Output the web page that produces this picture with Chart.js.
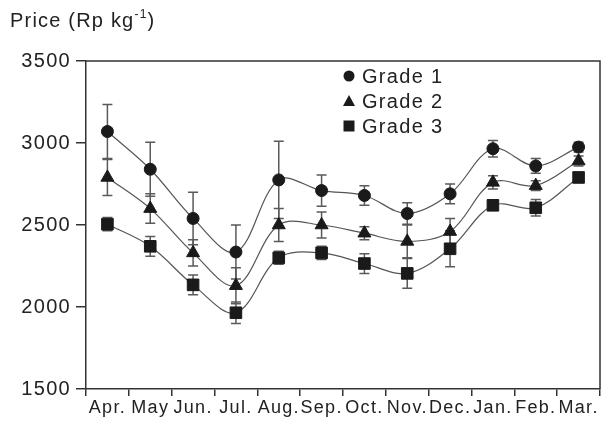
<!DOCTYPE html>
<html>
<head>
<meta charset="utf-8">
<script src="https://cdn.jsdelivr.net/npm/chart.js@4/dist/chart.umd.min.js"></script>
<style>
  html, body { margin: 0; padding: 0; background: #fff; }
  #wrap { position: relative; width: 616px; height: 421px; }
  #title {
    position: absolute; left: 10px; top: 10px;
    font: 20px "Liberation Sans", Arial, sans-serif; line-height: 20px;
    letter-spacing: 1.2px; color: #222; white-space: nowrap;
  }
  #title sup { font-size: 12px; position: relative; top: -1px; line-height: 0; }
</style>
</head>
<body>
<div id="wrap">
  <canvas id="chart" width="616" height="421"></canvas>
  <div id="title">Price (Rp kg<sup>-1</sup>)</div>
</div>
<script>
// Monthly prices by grade (Rp per kg) with their error margins
const months = ['Apr.', 'May', 'Jun.', 'Jul.', 'Aug.', 'Sep.', 'Oct.', 'Nov.', 'Dec.', 'Jan.', 'Feb.', 'Mar.'];
const grade1 = [3070, 2840, 2540, 2335, 2775, 2710, 2680, 2570, 2690, 2965, 2860, 2975];
const grade2 = [2790, 2600, 2330, 2130, 2500, 2500, 2450, 2400, 2460, 2760, 2740, 2890];
const grade3 = [2505, 2370, 2135, 1965, 2300, 2330, 2265, 2205, 2355, 2620, 2605, 2790];
const err1 = [165, 165, 160, 165, 235, 95, 60, 65, 60, 50, 45, 30];
const err2 = [110, 90, 80, 110, 100, 80, 40, 100, 80, 40, 30, 30];
const err3 = [40, 60, 60, 65, 40, 40, 60, 90, 110, 30, 50, 30];
const seriesNames = ['Grade 1', 'Grade 2', 'Grade 3'];
const yTicks = [1500, 2000, 2500, 3000, 3500];

const FONT = '"Liberation Sans", Arial, sans-serif';
const INK = '#222';
const LINE = '#555';

function series(label, values, errors, style, radius) {
  return {
    label, data: values, errors,
    borderColor: LINE, borderWidth: 1.2, tension: 0.35,
    pointStyle: style, pointRadius: radius, pointHoverRadius: radius,
    pointBackgroundColor: '#1a1a1a', pointBorderColor: '#1a1a1a', pointBorderWidth: 1
  };
}

// Text spacing for every draw pass
const spacing = {
  id: 'spacing',
  beforeDraw(chart) { chart.ctx.letterSpacing = '1.3px'; }
};

// Vertical error bars with caps, placed through the chart scales
const errorBars = {
  id: 'errorBars',
  beforeDatasetsDraw(chart) {
    const { ctx, scales: { x, y } } = chart;
    ctx.save();
    ctx.strokeStyle = '#5a5a5a';
    ctx.lineWidth = 1.5;
    chart.data.datasets.forEach(ds => {
      ds.data.forEach((v, i) => {
        const e = ds.errors[i];
        const px = x.getPixelForValue(i);
        const top = y.getPixelForValue(v + e);
        const bot = y.getPixelForValue(v - e);
        ctx.beginPath();
        ctx.moveTo(px, top); ctx.lineTo(px, bot);
        ctx.moveTo(px - 5, top); ctx.lineTo(px + 5, top);
        ctx.moveTo(px - 5, bot); ctx.lineTo(px + 5, bot);
        ctx.stroke();
      });
    });
    ctx.restore();
  }
};

// Top and right sides of the plot frame
const frame = {
  id: 'frame',
  afterDraw(chart) {
    const { ctx, chartArea: a } = chart;
    ctx.save();
    ctx.strokeStyle = '#333';
    ctx.lineWidth = 1.5;
    ctx.beginPath();
    ctx.moveTo(a.left, a.top); ctx.lineTo(a.right, a.top); ctx.lineTo(a.right, a.bottom);
    ctx.stroke();
    ctx.restore();
  }
};

// Legend with marker symbols in the upper part of the plot
const markerLegend = {
  id: 'markerLegend',
  afterDraw(chart) {
    const { ctx } = chart;
    const x0 = 349, y0 = 76, step = 25;
    ctx.save();
    ctx.font = '20px ' + FONT;
    ctx.textBaseline = 'middle';
    chart.data.datasets.forEach((ds, k) => {
      const cy = y0 + k * step;
      ctx.fillStyle = '#1a1a1a';
      ctx.beginPath();
      if (ds.pointStyle === 'circle') {
        ctx.arc(x0, cy, 5.5, 0, Math.PI * 2);
      } else if (ds.pointStyle === 'triangle') {
        ctx.moveTo(x0, cy - 6); ctx.lineTo(x0 + 6, cy + 5); ctx.lineTo(x0 - 6, cy + 5); ctx.closePath();
      } else {
        ctx.rect(x0 - 5.5, cy - 5.5, 11, 11);
      }
      ctx.fill();
      ctx.fillStyle = INK;
      ctx.fillText(ds.label, x0 + 13, cy + 1);
    });
    ctx.restore();
  }
};

new Chart(document.getElementById('chart'), {
  type: 'line',
  data: {
    labels: months,
    datasets: [
      series(seriesNames[0], grade1, err1, 'circle', 6),
      series(seriesNames[1], grade2, err2, 'triangle', 7.5),
      series(seriesNames[2], grade3, err3, 'rect', 8.2)
    ]
  },
  options: {
    responsive: false,
    animation: false,
    events: [],
    layout: { padding: { left: 0, top: 61, right: 16, bottom: 0 } },
    plugins: { legend: { display: false }, tooltip: { enabled: false } },
    scales: {
      x: {
        type: 'category',
        offset: true,
        grid: { offset: true, drawOnChartArea: false, drawTicks: true, tickLength: 7, color: '#333', lineWidth: 1.5 },
        border: { display: true, color: '#333', width: 1.5 },
        ticks: { color: INK, font: { family: FONT, size: 18 }, padding: 1, maxRotation: 0, autoSkip: false },
        afterFit(s) { s.height = 32; }
      },
      y: {
        min: yTicks[0], max: yTicks[yTicks.length - 1],
        afterBuildTicks(s) { s.ticks = yTicks.map(v => ({ value: v })); },
        grid: { drawOnChartArea: false, drawTicks: true, tickLength: 10, color: '#333', lineWidth: 1.5 },
        border: { display: true, color: '#333', width: 1.5 },
        ticks: { color: INK, font: { family: FONT, size: 20 }, padding: 5, callback: v => String(v) },
        afterFit(s) { s.width = 86; }
      }
    }
  },
  plugins: [spacing, errorBars, frame, markerLegend]
});
</script>
</body>
</html>
